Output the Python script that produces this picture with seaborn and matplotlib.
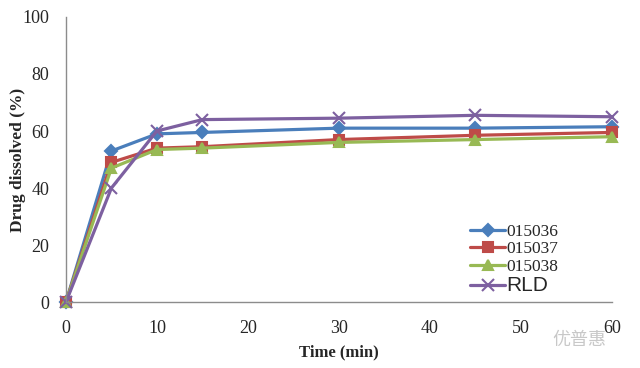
import seaborn as sns
import matplotlib.pyplot as plt
import pandas as pd

# dissolution data
time_min = [0, 5, 10, 15, 30, 45, 60]
s015036 = [0, 53, 59, 59.5, 61, 61, 61.5]
s015037 = [0, 49, 54, 54.5, 57, 58.5, 59.5]
s015038 = [0, 47, 53.5, 54, 56, 57, 58]
rld = [0, 40, 60, 64, 64.5, 65.5, 65]

series_names = ['015036', '015037', '015038', 'RLD']
colors = ['#4a7ebb', '#be4b48', '#98b954', '#7d60a0']
markers = ['D', 's', '^', 'x']
msizes = [6, 7, 7, 9]

sns.set_style('white')
plt.rcParams['font.family'] = ['Liberation Serif', 'DejaVu Serif']

fig = plt.figure(figsize=(6.4, 3.68), dpi=100)
ax = fig.add_axes([0.103, 0.179, 0.853, 0.775])

for name, vals, c, m, ms in zip(series_names, [s015036, s015037, s015038, rld],
                                colors, markers, msizes):
    d = pd.DataFrame({'Time': time_min, 'Value': vals})
    sns.lineplot(data=d, x='Time', y='Value', color=c, marker=m, markersize=ms,
                 markeredgecolor=c, markeredgewidth=1.5, linewidth=2.3,
                 label=name, ax=ax, clip_on=False)

ax.set_xlim(0, 60)
ax.set_ylim(0, 100)
ax.set_xticks([0, 10, 20, 30, 40, 50, 60])
ax.set_yticks([0, 20, 40, 60, 80, 100])
ax.tick_params(axis='x', direction='in', length=4, color='#888888', labelsize=13, pad=13)
ax.tick_params(axis='y', direction='inout', length=6, color='#888888', labelsize=13, pad=9)
sns.despine(ax=ax)
for sp in ['left', 'bottom']:
    ax.spines[sp].set_color('#8c8c8c')
    ax.spines[sp].set_linewidth(1)

ax.set_xlabel('Time (min)', fontsize=12, fontweight='bold', labelpad=5)
ax.set_ylabel('Drug dissolved (%)', fontsize=12.5, fontweight='bold')
ax.yaxis.set_label_coords(-0.074, 0.5)

leg = ax.legend(loc='lower right', bbox_to_anchor=(0.915, 0.0), frameon=False,
                fontsize=12.5, handlelength=2.0, handletextpad=0.1,
                labelspacing=0.08, borderaxespad=0.2, borderpad=0.2)
for txt in leg.get_texts():
    if txt.get_text() == 'RLD':
        txt.set_family(['Liberation Sans', 'DejaVu Sans'])
        txt.set_fontsize(15)

fig.text(0.905, 0.075, '优普惠', fontsize=13, color='#c8c8c8',
         family=['Noto Sans CJK SC', 'DejaVu Sans'], ha='center', va='center')

fig.savefig('out.png', dpi=100)
